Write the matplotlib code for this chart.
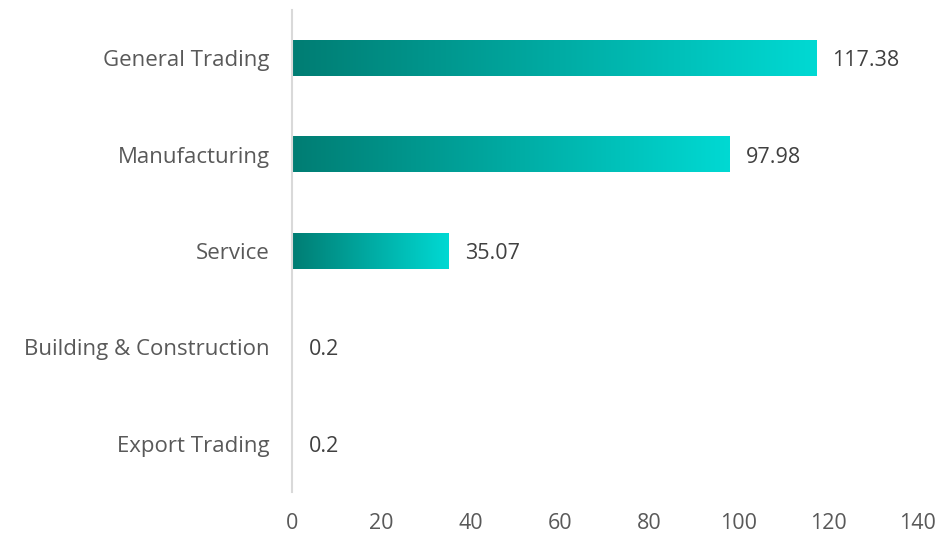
import numpy as np
import matplotlib.pyplot as plt
from matplotlib.colors import LinearSegmentedColormap

sectors = ["General Trading", "Manufacturing", "Service",
           "Building & Construction", "Export Trading"]
amounts = [117.38, 97.98, 35.07, 0.2, 0.2]
value_labels = ["117.38", "97.98", "35.07", "0.2", "0.2"]
x_ticks = [0, 20, 40, 60, 80, 100, 120, 140]

plt.rcParams['font.family'] = ['Open Sans', 'DejaVu Sans']
text_color = '#595959'

teal = LinearSegmentedColormap.from_list('teal', ['#007d73', '#00d9d3'])
gradient = np.linspace(0, 1, 256).reshape(1, -1)

px = 1 / 100
fig = plt.figure(figsize=(948 * px, 534 * px), dpi=100)
ax = fig.add_axes([0.308, 0.079, 0.66, 0.902])

bar_h = 0.37
# top category first
ypos = np.arange(len(sectors))[::-1]
for y, val, lab in zip(ypos, amounts, value_labels):
    ax.imshow(gradient, cmap=teal, aspect='auto', interpolation='bilinear',
              extent=(0, val, y - bar_h / 2, y + bar_h / 2), zorder=2)
    ax.annotate(lab, xy=(val, y), xytext=(11.5, 0), textcoords='offset points',
                va='center_baseline', ha='left', fontsize=15.5, color='#404040')

ax.set_xlim(0, 140)
ax.set_ylim(-0.5, len(sectors) - 0.5)
ax.set_yticks(ypos)
ax.set_yticklabels(sectors, fontsize=16, color=text_color, va='center_baseline')
ax.set_xticks(x_ticks)
ax.set_xticklabels([str(t) for t in x_ticks], fontsize=15.5, color=text_color)
ax.tick_params(axis='both', length=0)
ax.tick_params(axis='y', pad=16)
ax.tick_params(axis='x', pad=15)

for side in ['top', 'right', 'bottom']:
    ax.spines[side].set_visible(False)
ax.spines['left'].set_color('#d9d9d9')
ax.spines['left'].set_linewidth(1.5)

fig.savefig('out.png', dpi=100)
